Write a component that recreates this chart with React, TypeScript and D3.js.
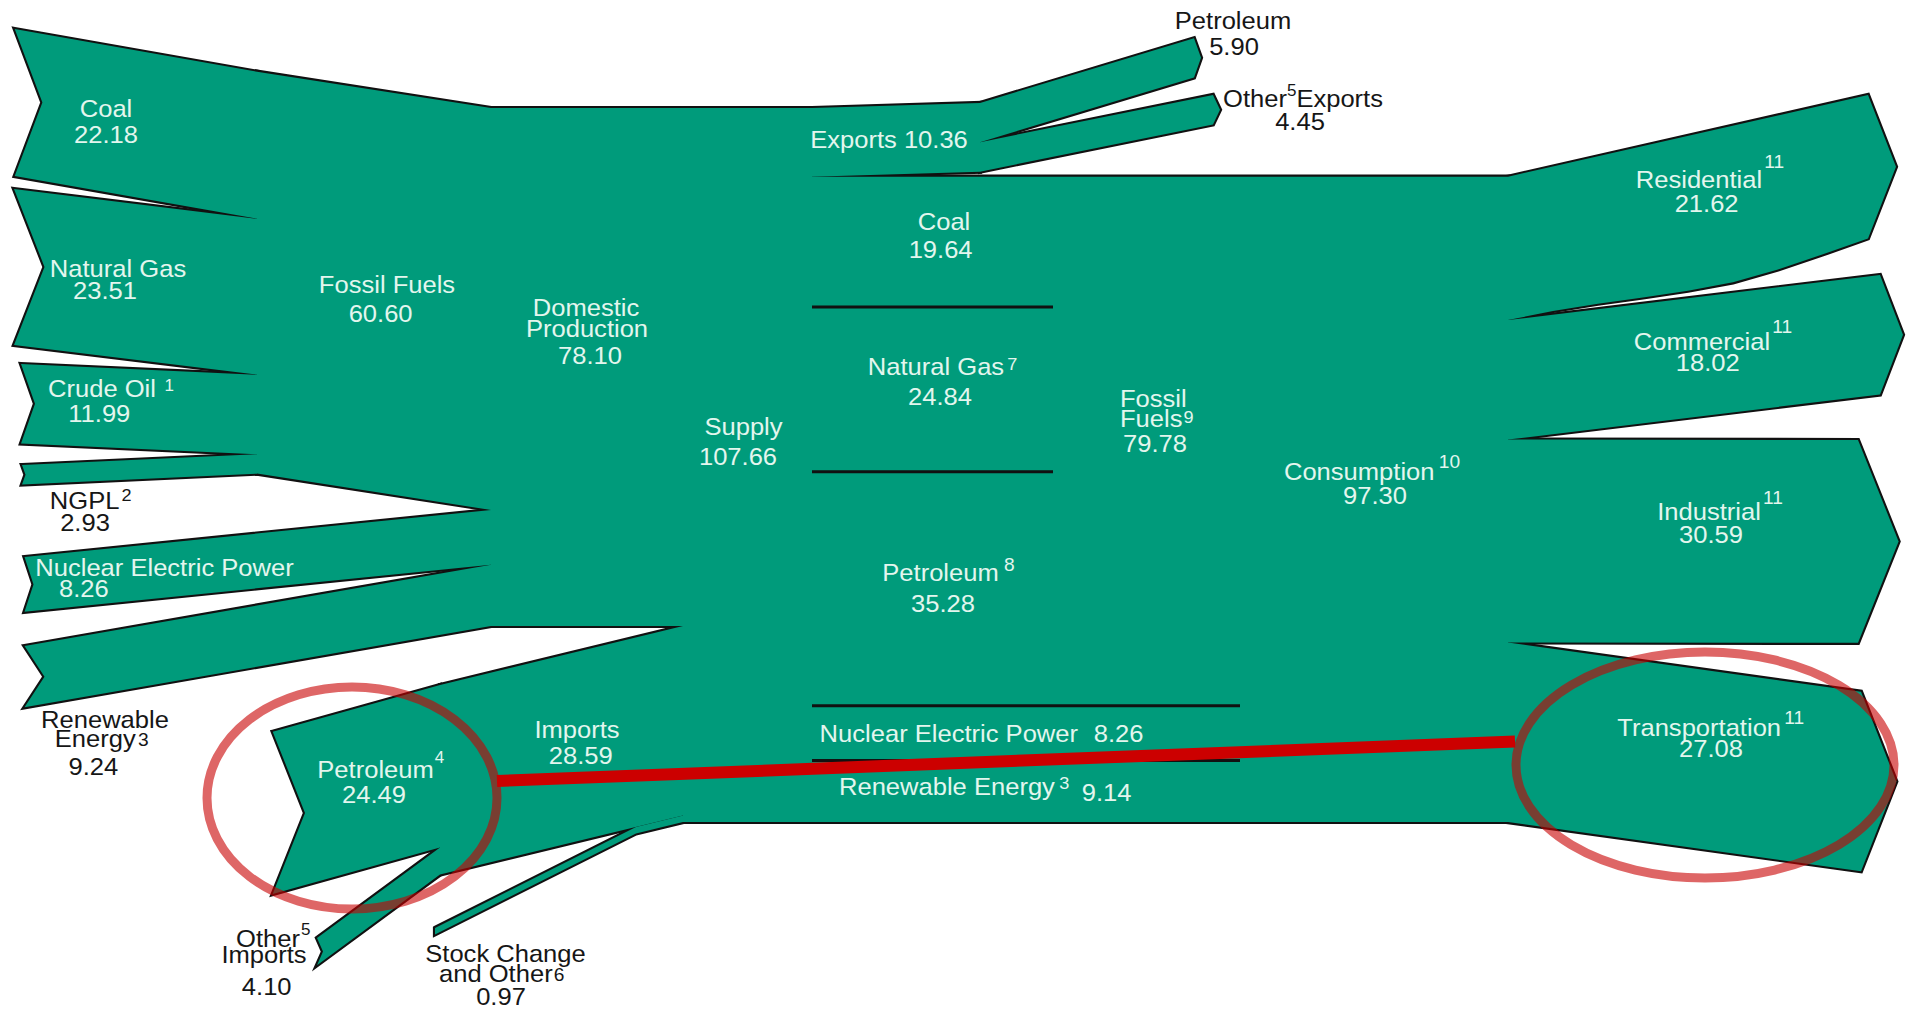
import React from "react";
import * as d3 from "d3";

// ---------------- data (quadrillion Btu) ----------------
const productionSources = ["Coal", "Natural Gas", "Crude Oil", "NGPL"];
const productionValues = [22.18, 23.51, 11.99, 2.93];
const fossilProduction = 60.6;
const otherProductionSources = ["Nuclear Electric Power", "Renewable Energy"];
const otherProductionValues = [8.26, 9.24];
const domesticProduction = 78.1;
const importSources = ["Petroleum", "Other"];
const importValues = [24.49, 4.1];
const importsTotal = 28.59;
const stockChange = 0.97;
const supplyTotal = 107.66;
const exportTypes = ["Petroleum", "Other"];
const exportValues = [5.9, 4.45];
const exportsTotal = 10.36;
const consumptionTotal = 97.3;
const consumptionSources = ["Coal", "Natural Gas", "Petroleum", "Nuclear Electric Power", "Renewable Energy"];
const consumptionSourceValues = [19.64, 24.84, 35.28, 8.26, 9.14];
const fossilConsumption = 79.78;
const sectors = ["Residential", "Commercial", "Industrial", "Transportation"];
const sectorValues = [21.62, 18.02, 30.59, 27.08];

// ---------------- layout ----------------
const W = 1908;
const H = 1009;
const Y_TOP = 108;
const Y_BOTTOM = 822;
const y = d3.scaleLinear().domain([0, supplyTotal]).range([Y_TOP, Y_BOTTOM]);
const th = (v: number) => y(v) - y(0);

const prodTailX = [14.7, 14, 21, 22];
const prodTailY = [29, 189, 364, 465];
const prodNotch = [27.7, 30.5, 14, 3.5];
const FOSSIL_X = 257;
const FOSSIL_TOP = 71.7;
const DOMESTIC_X = 491;
const otherProdTailX = [24.5, 24.5];
const otherProdTailY = [557, 646];
const otherProdNotch = [9, 20];
const IMPORT_X = 440;
const IMPORT_TOP = 685;
const importTailX = [272.7, 317];
const importTailY = [731.7, 938];
const importNotch = [32.3, 6];
const STOCK_TAIL_X = 435;
const STOCK_TAIL_Y = 928;
const STOCK_MERGE_X = 636;
const SUPPLY_X = 683;
const SPLIT_X = 812;
const EXPORT_X = 980;
const EXPORT_TOP = 103;
const exportEndX = [1194, 1213];
const exportEndY = [38.3, 95];
const exportHead = [7, 7];
const SECTOR_X = 1508;
const sectorEndX = [1868, 1880, 1858, 1861];
const sectorEndY = [95, 275, 440, 691.7];
const sectorHead = [28, 23, 40.6, 35.3];
const sectorBottomBend = [15, 0, 0, 0];
const dividerEndX = [1053, 1053, 1240, 1240];

const GREEN = "#009B7B";
const LIGHT = "#E3F6EE";
const DARK = "#161616";
const FS = 24;
const SX = 1.065;

type P = [number, number];
const lineGen = d3.line<P>();
const path = (pts: P[]) => (lineGen(pts) || "") + "Z";

function tailBand(x0: number, t0: number, x1: number, t1: number, h: number, notch: number): P[] {
  return [
    [x0, t0],
    [x1, t1],
    [x1, t1 + h],
    [x0, t0 + h],
    [x0 + notch, t0 + h / 2],
  ];
}
function headBand(
  x0: number,
  t0: number,
  x1: number,
  t1: number,
  h: number,
  head: number,
  bend = 0
): P[] {
  const pts: P[] = [
    [x0, t0],
    [x1, t1],
    [x1 + head, t1 + h / 2],
    [x1, t1 + h],
  ];
  if (bend) {
    // bottom edge bends: flatter first, steeper near the head
    const steps = 8;
    for (let k = steps - 1; k >= 1; k--) {
      const u = k / steps;
      const xx = x0 + (x1 - x0) * u;
      const yy = t0 + h + (t1 - t0) * u + bend * Math.sin(Math.PI * u) * (u < 0.65 ? u / 0.65 : 1);
      pts.push([xx, yy]);
    }
  }
  pts.push([x0, t0 + h]);
  return pts;
}

function buildPolys(): P[][] {
  const polys: P[][] = [];
  let cum = FOSSIL_TOP;
  productionValues.forEach((v, i) => {
    const t = th(v);
    polys.push(tailBand(prodTailX[i], prodTailY[i], FOSSIL_X, cum, t, prodNotch[i]));
    cum += t;
  });
  const fh = th(fossilProduction);
  polys.push([
    [FOSSIL_X, FOSSIL_TOP],
    [DOMESTIC_X, Y_TOP],
    [DOMESTIC_X, Y_TOP + fh],
    [FOSSIL_X, FOSSIL_TOP + fh],
  ]);
  cum = Y_TOP + fh;
  otherProductionValues.forEach((v, i) => {
    const t = th(v);
    polys.push(tailBand(otherProdTailX[i], otherProdTailY[i], DOMESTIC_X, cum, t, otherProdNotch[i]));
    cum += t;
  });
  const yDom = y(domesticProduction);
  polys.push([
    [DOMESTIC_X, Y_TOP],
    [SUPPLY_X, Y_TOP],
    [SUPPLY_X, yDom],
    [DOMESTIC_X, yDom],
  ]);
  cum = IMPORT_TOP;
  importValues.forEach((v, i) => {
    const t = th(v);
    polys.push(tailBand(importTailX[i], importTailY[i], IMPORT_X, cum, t, importNotch[i]));
    cum += t;
  });
  const hi = th(importsTotal);
  polys.push([
    [IMPORT_X, IMPORT_TOP],
    [SUPPLY_X, yDom],
    [SUPPLY_X, yDom + hi],
    [IMPORT_X, IMPORT_TOP + hi],
  ]);
  const botAt = d3.scaleLinear().domain([IMPORT_X, SUPPLY_X]).range([IMPORT_TOP + hi, yDom + hi]);
  const hs = th(stockChange);
  const bm = botAt(STOCK_MERGE_X);
  polys.push([
    [STOCK_TAIL_X, STOCK_TAIL_Y],
    [STOCK_MERGE_X, bm],
    [SUPPLY_X, yDom + hi],
    [SUPPLY_X, yDom + hi + hs],
    [STOCK_MERGE_X, bm + hs],
    [STOCK_TAIL_X, STOCK_TAIL_Y + hs],
  ]);
  polys.push([
    [SUPPLY_X, Y_TOP],
    [SPLIT_X, Y_TOP],
    [SPLIT_X, y(supplyTotal)],
    [SUPPLY_X, y(supplyTotal)],
  ]);
  const he = th(exportsTotal);
  polys.push([
    [SPLIT_X, Y_TOP],
    [EXPORT_X, EXPORT_TOP],
    [EXPORT_X, EXPORT_TOP + he],
    [SPLIT_X, Y_TOP + he],
  ]);
  cum = EXPORT_TOP;
  exportValues.forEach((v, i) => {
    const t = th(v);
    polys.push(headBand(EXPORT_X, cum, exportEndX[i], exportEndY[i], t, exportHead[i]));
    cum += t;
  });
  const cTop = y(exportsTotal);
  const hc = th(consumptionTotal);
  polys.push([
    [SPLIT_X, cTop],
    [SECTOR_X, cTop],
    [SECTOR_X, cTop + hc],
    [SPLIT_X, cTop + hc],
  ]);
  cum = cTop;
  sectorValues.forEach((v, i) => {
    const t = th(v);
    polys.push(headBand(SECTOR_X, cum, sectorEndX[i], sectorEndY[i], t, sectorHead[i], sectorBottomBend[i]));
    cum += t;
  });
  return polys;
}

function buildDividers() {
  const out: { x1: number; x2: number; yy: number }[] = [];
  let cum = y(exportsTotal);
  for (let i = 0; i < consumptionSourceValues.length - 1; i++) {
    cum += th(consumptionSourceValues[i]);
    out.push({ x1: SPLIT_X, x2: dividerEndX[i], yy: cum });
  }
  return out;
}

// ---------------- labels ----------------
type Sup = { sup: string; raise: number; size?: number; dx?: number };
type Seg = string | Sup;
interface Lbl {
  x: number;
  y: number;
  segs: Seg[];
  dark?: boolean;
  anchor?: "start" | "middle" | "end";
}
const f = (v: number) => v.toFixed(2);
const [renewWord1, renewWord2] = otherProductionSources[1].split(" ");
const [fossilWord1, fossilWord2] = ["Fossil", "Fuels"];

const labels: Lbl[] = [
  { x: 106, y: 116.7, segs: [productionSources[0]] },
  { x: 106, y: 142.7, segs: [f(productionValues[0])] },
  { x: 118, y: 276.7, segs: [productionSources[1]] },
  { x: 105, y: 299.3, segs: [f(productionValues[1])] },
  { x: 111, y: 397.3, segs: [productionSources[2], { sup: "1", raise: 6, size: 16, dx: 8 }] },
  { x: 99.3, y: 421.7, segs: [f(productionValues[2])] },
  { x: 90.7, y: 509.3, dark: true, segs: [productionSources[3], { sup: "2", raise: 8, size: 17, dx: 2 }] },
  { x: 85, y: 530.7, dark: true, segs: [f(productionValues[3])] },
  { x: 164.5, y: 576, segs: [otherProductionSources[0]] },
  { x: 83.8, y: 596.7, segs: [f(otherProductionValues[0])] },
  { x: 105, y: 728.3, dark: true, segs: [renewWord1] },
  { x: 101.7, y: 746.7, dark: true, segs: [renewWord2, { sup: "3", raise: 1, size: 18, dx: 2 }] },
  { x: 93.3, y: 775, dark: true, segs: [f(otherProductionValues[1])] },
  { x: 387, y: 293.3, segs: [`${fossilWord1} ${fossilWord2}`] },
  { x: 380.6, y: 321.7, segs: [f(fossilProduction)] },
  { x: 586, y: 316, segs: ["Domestic"] },
  { x: 587, y: 336.7, segs: ["Production"] },
  { x: 590, y: 364, segs: [f(domesticProduction)] },
  { x: 380.8, y: 778.3, segs: [importSources[0], { sup: "4", raise: 15, size: 16, dx: 1 }] },
  { x: 374, y: 803.3, segs: [f(importValues[0])] },
  { x: 577, y: 737.7, segs: ["Imports"] },
  { x: 580.8, y: 764.3, segs: [f(importsTotal)] },
  { x: 273.3, y: 947.3, dark: true, segs: [importSources[1], { sup: "5", raise: 12, size: 16, dx: 1 }] },
  { x: 264, y: 963.4, dark: true, segs: ["Imports"] },
  { x: 266.7, y: 995.4, dark: true, segs: [f(importValues[1])] },
  { x: 505.5, y: 961.7, dark: true, segs: ["Stock Change"] },
  { x: 501.7, y: 981.7, dark: true, segs: ["and Other", { sup: "6", raise: 1, size: 18, dx: 1 }] },
  { x: 501, y: 1005, dark: true, segs: [f(stockChange)] },
  { x: 743.5, y: 435, segs: ["Supply"] },
  { x: 738, y: 465, segs: [f(supplyTotal)] },
  { x: 889, y: 148, segs: [`Exports ${f(exportsTotal)}`] },
  { x: 1233, y: 29.3, dark: true, segs: [exportTypes[0]] },
  { x: 1234, y: 55, dark: true, segs: [f(exportValues[0])] },
  { x: 1303, y: 106.7, dark: true, segs: [exportTypes[1], { sup: "5", raise: 11, size: 16, dx: 0 }, "Exports"] },
  { x: 1300, y: 130, dark: true, segs: [f(exportValues[1])] },
  { x: 944, y: 230, segs: [consumptionSources[0]] },
  { x: 940.6, y: 258.3, segs: [f(consumptionSourceValues[0])] },
  { x: 942.6, y: 375, segs: [consumptionSources[1], { sup: "7", raise: 5, size: 17, dx: 3 }] },
  { x: 940, y: 405, segs: [f(consumptionSourceValues[1])] },
  { x: 1120, y: 406.5, anchor: "start", segs: [fossilWord1] },
  { x: 1120, y: 426.5, anchor: "start", segs: [fossilWord2, { sup: "9", raise: 4, size: 17, dx: 1 }] },
  { x: 1155, y: 452, segs: [f(fossilConsumption)] },
  { x: 1372, y: 480, segs: ["Consumption", { sup: "10", raise: 12, size: 18, dx: 4 }] },
  { x: 1375, y: 504, segs: [f(consumptionTotal)] },
  { x: 948.5, y: 581.2, segs: [consumptionSources[2], { sup: "8", raise: 10, size: 18, dx: 5 }] },
  { x: 943, y: 612.2, segs: [f(consumptionSourceValues[2])] },
  { x: 819.6, y: 742.3, anchor: "start", segs: [consumptionSources[3]] },
  { x: 1093.7, y: 742.3, anchor: "start", segs: [f(consumptionSourceValues[3])] },
  { x: 839, y: 795, anchor: "start", segs: [consumptionSources[4], { sup: "3", raise: 6, size: 17, dx: 4 }] },
  { x: 1081.7, y: 801, anchor: "start", segs: [f(consumptionSourceValues[4])] },
  { x: 1710, y: 188.3, segs: [sectors[0], { sup: "11", raise: 20, size: 18, dx: 2 }] },
  { x: 1706.6, y: 211.7, segs: [f(sectorValues[0])] },
  { x: 1713, y: 350, segs: [sectors[1], { sup: "11", raise: 17, size: 18, dx: 2 }] },
  { x: 1707.7, y: 370.7, segs: [f(sectorValues[1])] },
  { x: 1720, y: 519.5, segs: [sectors[2], { sup: "11", raise: 16, size: 18, dx: 2 }] },
  { x: 1711, y: 543.4, segs: [f(sectorValues[2])] },
  { x: 1710.7, y: 736, segs: [sectors[3], { sup: "11", raise: 12, size: 18, dx: 3 }] },
  { x: 1711, y: 757.3, segs: [f(sectorValues[3])] },
];

function Label({ l }: { l: Lbl }) {
  let cur = 0;
  const spans = l.segs.map((s, j) => {
    if (typeof s === "string") {
      const dy = -cur;
      cur = 0;
      return (
        <tspan key={j} dy={dy !== 0 ? dy : undefined}>
          {s}
        </tspan>
      );
    }
    const dy = -s.raise - cur;
    cur = -s.raise;
    return (
      <tspan key={j} dy={dy} dx={s.dx ?? 1} fontSize={s.size ?? 17}>
        {s.sup}
      </tspan>
    );
  });
  return (
    <text
      transform={`translate(${l.x},${l.y}) scale(${SX},1)`}
      textAnchor={l.anchor ?? "middle"}
      fill={l.dark ? DARK : LIGHT}
      fontSize={FS}
      fontFamily="'Liberation Sans', Arial, Helvetica, sans-serif"
    >
      {spans}
    </text>
  );
}

// annotation marks (red highlight)
const highlightA = { cx: 352, cy: 798, rx: 145, ry: 111 };
const highlightB = { cx: 1705, cy: 765, rx: 189, ry: 113 };

export default function App() {
  const polys = buildPolys();
  const dividers = buildDividers();
  const linkStart: P = [highlightA.cx + highlightA.rx, 781];
  const linkEnd: P = [highlightB.cx - highlightB.rx - 1, 741.5];
  return (
    <svg
      width={W}
      height={H}
      viewBox={`0 0 ${W} ${H}`}
      style={{ position: "absolute", left: 0, top: 0, display: "block", background: "#fff" }}
    >
      <rect x={0} y={0} width={W} height={H} fill="#fff" />
      <g>
        {polys.map((p, i) => (
          <path key={"o" + i} d={path(p)} fill={GREEN} stroke="#111" strokeWidth={4.2} strokeLinejoin="miter" />
        ))}
      </g>
      <g>
        {polys.map((p, i) => (
          <path key={"f" + i} d={path(p)} fill={GREEN} stroke="none" />
        ))}
      </g>
      <g>
        {dividers.map((d, i) => (
          <line key={i} x1={d.x1} x2={d.x2} y1={d.yy} y2={d.yy} stroke="#111" strokeWidth={3} />
        ))}
      </g>
      <g>
        {labels.map((l, i) => (
          <Label key={i} l={l} />
        ))}
      </g>
      <g>
        <ellipse {...highlightA} fill="none" stroke="rgb(200,0,0)" strokeOpacity={0.6} strokeWidth={9} />
        <ellipse {...highlightB} fill="none" stroke="rgb(200,0,0)" strokeOpacity={0.6} strokeWidth={9} />
        <line
          x1={linkStart[0]}
          y1={linkStart[1]}
          x2={linkEnd[0]}
          y2={linkEnd[1]}
          stroke="#CC0000"
          strokeWidth={12}
        />
      </g>
    </svg>
  );
}
